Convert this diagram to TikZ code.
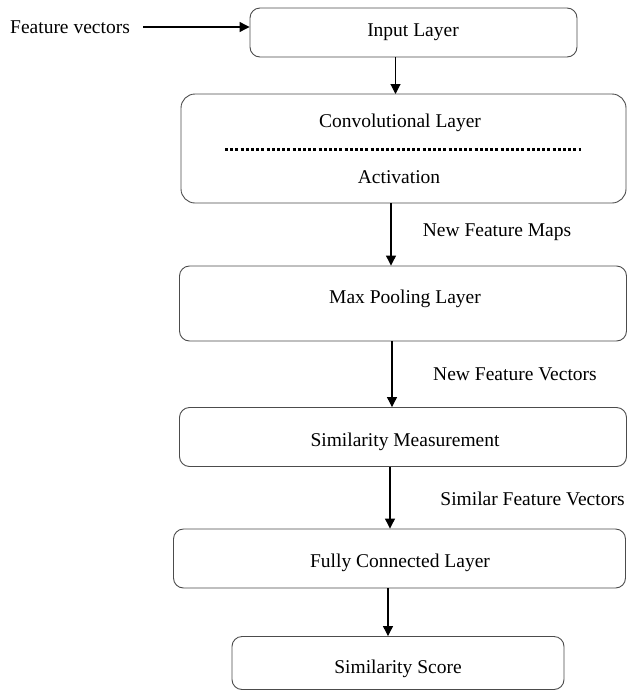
\documentclass[tikz,border=0pt]{standalone}
\usepackage{fontspec}
\setmainfont{Liberation Serif}
\usetikzlibrary{arrows.meta}

\tikzset{
  layerbox/.style={draw=black!70, line width=0.9pt, rounded corners=10pt, fill=white},
  flow/.style={draw=black, line width=1.1pt, -{Triangle[length=10pt,width=10pt]}},
  txt/.style={inner sep=0pt, anchor=center},
}

\begin{document}
\begin{tikzpicture}[x=1pt,y=-1pt,font=\fontsize{19.5}{23}\selectfont]
  \useasboundingbox (0,0) rectangle (628,691);

  % layer boxes
  \node[layerbox, minimum width=327pt, minimum height=49pt] (input) at (413.5,32.5) {};
  \node[txt] (inputtxt) at (413,32) {Input Layer};

  \draw[layerbox, rounded corners=14pt] (181,94) rectangle (626,203);
  \node[txt] (conv) at (400,123) {Convolutional Layer};
  \node[txt] (act) at (399,177) {Activation};
  \coordinate (convtop) at (395.5,94);
  \coordinate (convbot) at (391,203);
  % dotted separator between the two sub-stages
  \draw[line width=3pt, dash pattern=on 3pt off 2.2pt] (225,149) -- (581,149);

  \node[layerbox, minimum width=447pt, minimum height=75pt] (pool) at (403,303.5) {};
  \node[txt] (pooltxt) at (405,299) {Max Pooling Layer};

  \node[layerbox, minimum width=447pt, minimum height=59pt] (sim) at (403,437) {};
  \node[txt] (simtxt) at (405,442) {Similarity Measurement};

  \node[layerbox, minimum width=452pt, minimum height=59pt] (fc) at (399.5,558.5) {};
  \node[txt] (fctxt) at (400,563) {Fully Connected Layer};

  \node[layerbox, minimum width=332pt, minimum height=53pt] (score) at (398,663) {};
  \node[txt] (scoretxt) at (398,669) {Similarity Score};

  % input label
  \node[txt] (fv) at (70,27) {Feature vectors};
  \coordinate (fvend) at (143,27);

  % edge labels
  \node[txt] (l1) at (497,232) {New Feature Maps};
  \node[txt] (l2) at (515,374) {New Feature Vectors};
  \node[txt] (l3) at (532.5,499) {Similar Feature Vectors};

  % connectors
  \draw[flow] (fvend) -- (fvend -| input.west);
  \draw[flow] (input.south -| convtop) -- (convtop);
  \draw[flow] (convbot) -- (convbot |- pool.north);
  \draw[flow] (pool.south -| 392,0) -- (sim.north -| 392,0);
  \draw[flow] (sim.south -| 390,0) -- (fc.north -| 390,0);
  \draw[flow] (fc.south -| 388,0) -- (score.north -| 388,0);
\end{tikzpicture}
\end{document}
